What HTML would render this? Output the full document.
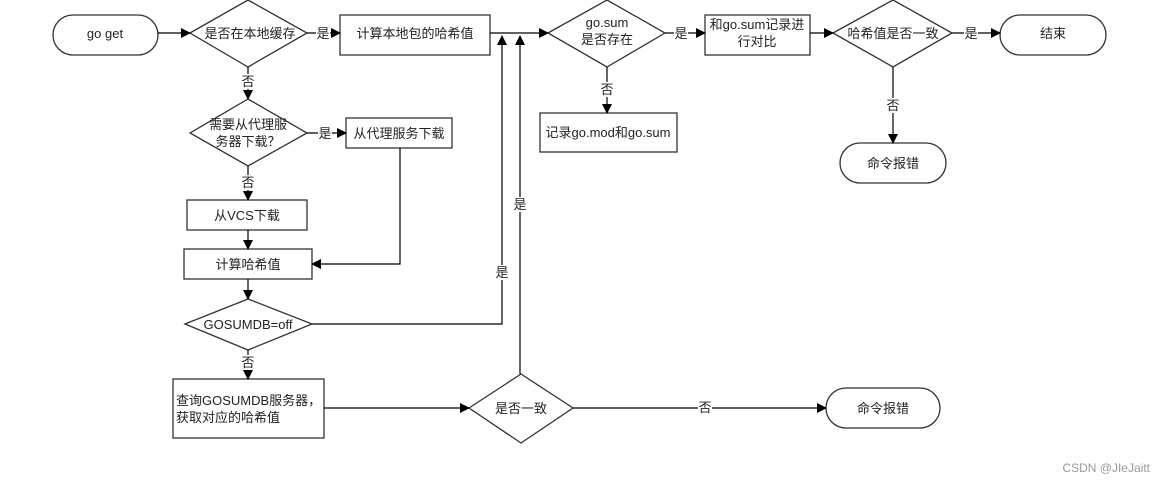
<!DOCTYPE html>
<html><head><meta charset="utf-8"><style>
html,body{margin:0;padding:0;background:#fff;}
svg text{font-family:"Liberation Sans","Noto Sans CJK SC",sans-serif;font-size:13px;fill:#222;}
</style></head><body>
<svg width="1166" height="484" viewBox="0 0 1166 484" xmlns="http://www.w3.org/2000/svg">
<defs><marker id="a" markerWidth="10" markerHeight="10" refX="9" refY="5" orient="auto" markerUnits="userSpaceOnUse"><path d="M0,0 L10,5 L0,10 z" fill="#000"/></marker></defs>
<g fill="#fff" stroke="#333" stroke-width="1.3">
<rect x="53" y="15" width="105" height="40" rx="20"/>
<polygon points="190,33 248,0 307,33 248,67"/>
<rect x="340" y="15" width="150" height="40"/>
<polygon points="548,33 607,0 665,33 607,67"/>
<rect x="705" y="15" width="105" height="40"/>
<polygon points="833,33 893,0 952,33 893,67"/>
<rect x="1000" y="15" width="106" height="40" rx="20"/>
<rect x="540" y="113" width="137" height="39"/>
<rect x="840" y="143" width="106" height="40" rx="20"/>
<polygon points="190,133 248,99 307,133 248,166"/>
<rect x="346" y="118" width="106" height="30"/>
<rect x="187" y="200" width="120" height="30"/>
<rect x="184" y="249" width="128" height="30"/>
<polygon points="185,324 248,299 312,324 248,350"/>
<rect x="173" y="379" width="151" height="59"/>
<polygon points="469,408 521,374 573,408 521,443"/>
<rect x="826" y="388" width="114" height="40" rx="20"/>
</g>
<g fill="none" stroke="#000" stroke-width="1.2">
<line x1="158" y1="33" x2="190" y2="33" marker-end="url(#a)"/>
<line x1="307" y1="33" x2="340" y2="33" marker-end="url(#a)"/>
<line x1="490" y1="33" x2="548" y2="33" marker-end="url(#a)"/>
<line x1="665" y1="33" x2="705" y2="33" marker-end="url(#a)"/>
<line x1="810" y1="33" x2="833" y2="33" marker-end="url(#a)"/>
<line x1="952" y1="33" x2="1000" y2="33" marker-end="url(#a)"/>
<line x1="607" y1="67" x2="607" y2="113" marker-end="url(#a)"/>
<line x1="893" y1="67" x2="893" y2="143" marker-end="url(#a)"/>
<line x1="248" y1="67" x2="248" y2="99" marker-end="url(#a)"/>
<line x1="307" y1="133" x2="346" y2="133" marker-end="url(#a)"/>
<line x1="248" y1="166" x2="248" y2="200" marker-end="url(#a)"/>
<line x1="248" y1="230" x2="248" y2="249" marker-end="url(#a)"/>
<polyline points="400,148 400,264 312,264" marker-end="url(#a)"/>
<line x1="248" y1="279" x2="248" y2="299" marker-end="url(#a)"/>
<polyline points="312,324 502,324 502,36" marker-end="url(#a)"/>
<line x1="248" y1="350" x2="248" y2="379" marker-end="url(#a)"/>
<line x1="324" y1="408" x2="469" y2="408" marker-end="url(#a)"/>
<line x1="520" y1="374" x2="520" y2="36" marker-end="url(#a)"/>
<line x1="573" y1="408" x2="826" y2="408" marker-end="url(#a)"/>
</g>
<g fill="#fff">
<rect x="316" y="26" width="14" height="15"/><rect x="674" y="26" width="14" height="15"/>
<rect x="964" y="26" width="14" height="15"/><rect x="318" y="126" width="14" height="15"/>
<rect x="241" y="74" width="14" height="15"/><rect x="241" y="175" width="14" height="15"/>
<rect x="600" y="82" width="14" height="15"/><rect x="886" y="98" width="14" height="15"/>
<rect x="495" y="265" width="14" height="15"/><rect x="513" y="197" width="14" height="15"/>
<rect x="241" y="355" width="14" height="15"/><rect x="698" y="400" width="14" height="15"/>
</g>
<g text-anchor="middle">
<text x="105" y="38">go get</text>
<text x="250" y="38">是否在本地缓存</text>
<text x="323" y="38">是</text>
<text x="415" y="38">计算本地包的哈希值</text>
<text x="607" y="27">go.sum</text>
<text x="607" y="44">是否存在</text>
<text x="681" y="38">是</text>
<text x="757" y="29">和go.sum记录进</text>
<text x="757" y="46">行对比</text>
<text x="893" y="38">哈希值是否一致</text>
<text x="971" y="38">是</text>
<text x="1053" y="38">结束</text>
<text x="607" y="94">否</text>
<text x="608" y="137">记录go.mod和go.sum</text>
<text x="893" y="110">否</text>
<text x="893" y="168">命令报错</text>
<text x="248" y="86">否</text>
<text x="248" y="129">需要从代理服</text>
<text x="248" y="146">务器下载？</text>
<text x="325" y="138">是</text>
<text x="399" y="138">从代理服务下载</text>
<text x="248" y="187">否</text>
<text x="247" y="220">从VCS下载</text>
<text x="248" y="269">计算哈希值</text>
<text x="248" y="329">GOSUMDB=off</text>
<text x="502" y="277">是</text>
<text x="520" y="209">是</text>
<text x="248" y="367">否</text>
<text x="521" y="413">是否一致</text>
<text x="705" y="412">否</text>
<text x="883" y="413">命令报错</text>
</g>
<text x="176" y="405">查询GOSUMDB服务器，</text>
<text x="176" y="422">获取对应的哈希值</text>
<text x="1150" y="472" text-anchor="end" style="font-size:12px;fill:#999">CSDN @JIeJaitt</text>
</svg>
</body></html>
